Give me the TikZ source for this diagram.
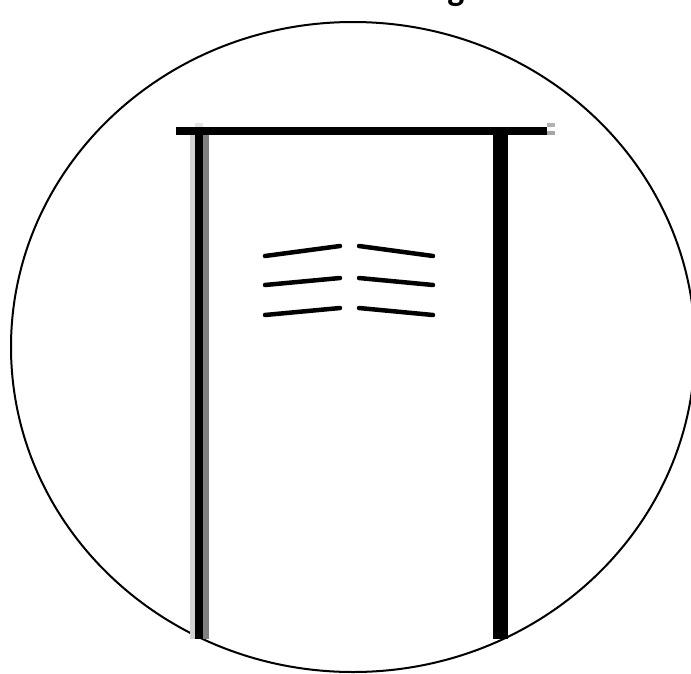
\documentclass[tikz,border=0pt]{standalone}
\usepackage{fontspec}
\setmainfont{Carlito}
\begin{document}
\begin{tikzpicture}[x=1pt,y=-1pt,
  outline/.style={draw=black,line width=2pt},
  post/.style={fill=black},
  hatch/.style={draw=black,line width=4.5pt,line cap=round}]
\useasboundingbox (0,0) rectangle (691,673);
\clip (0,0) rectangle (691,673);
% cut-off title
\node[inner sep=0pt,anchor=south,font=\bfseries\fontsize{36}{40}\selectfont] (title) at (456,7) {g};
% outer ellipse
\draw[outline] (353,347) ellipse [x radius=342, y radius=325];
% top bar
\fill[post] (176,127) rectangle (547,135);
\fill[black!30] (547,123) rectangle (555,127);
\fill[black!35] (547,131) rectangle (555,135);
% left post with soft edges
\fill[black!18] (190,135) rectangle (195,639);
\fill[black!50] (203,135) rectangle (209,639);
\fill[black!10] (195,123) rectangle (203,127);
\fill[post] (195,127) rectangle (203,639);
% right post
\fill[post] (493,127) rectangle (508,639);
% hatch marks
\draw[hatch] (265,256) -- (340,246);
\draw[hatch] (359,246) -- (433,256);
\draw[hatch] (265,285) -- (340,278);
\draw[hatch] (359,278) -- (433,285);
\draw[hatch] (265,315) -- (340,308);
\draw[hatch] (359,308) -- (433,315);
\end{tikzpicture}
\end{document}
